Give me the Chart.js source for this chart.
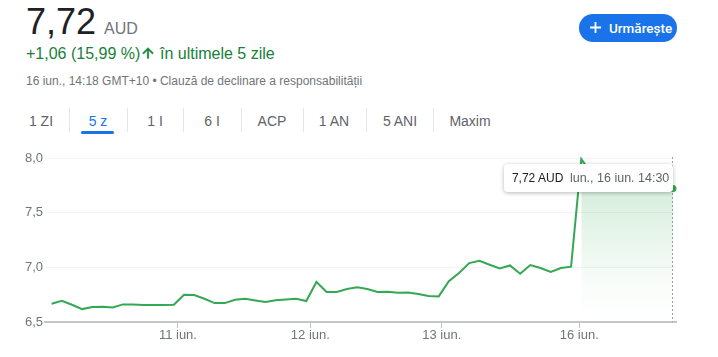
<!DOCTYPE html>
<html><head><meta charset="utf-8">
<script src="https://cdn.jsdelivr.net/npm/chart.js@4"></script>
<style>
html,body{margin:0;padding:0;background:#fff;}
body{width:718px;height:357px;position:relative;overflow:hidden;font-family:Arial,"Liberation Sans",sans-serif;}
.abs{position:absolute;white-space:nowrap;}
#price{left:26px;top:4px;font-size:36px;line-height:36px;color:#202124;}
#cur{left:104px;top:21px;font-size:16px;line-height:16px;color:#70757a;}
#chg{left:26px;top:46px;font-size:16px;line-height:16px;color:#188038;}
#arrow{left:140px;top:45px;width:16px;height:16px;}
#per{left:160px;top:46px;font-size:16px;line-height:16px;color:#188038;}
#meta{left:26px;top:75px;font-size:12px;line-height:12px;color:#70757a;}
#btn{left:579px;top:14px;width:98px;height:28px;border-radius:14px;background:#1a73e8;color:#fff;}
#btn svg{position:absolute;left:10px;top:7px;}
#btn span{position:absolute;left:30px;top:7px;font-family:Roboto,Arial,sans-serif;font-weight:500;font-size:13.5px;line-height:14px;}
.tab{position:absolute;top:114px;width:80px;text-align:center;font-size:14px;line-height:14px;color:#5f6368;}
.sep{position:absolute;top:108px;width:1px;height:24px;background:#e3e5e8;}
#uline{left:81px;top:131px;width:33px;height:3px;border-radius:2px;background:#1a73e8;}
#wrap{left:0;top:140px;width:718px;height:217px;}
#tip{background:#fff;border-radius:4px;box-shadow:0 1px 4px rgba(0,0,0,0.28);height:28px;width:169px;}
#tip .a{position:absolute;left:8px;top:8px;font-size:12px;line-height:12px;color:#202124;}
#tip .b{position:absolute;left:66px;top:8px;font-size:12.5px;line-height:13px;color:#5f6368;}
</style></head>
<body>
<div class="abs" id="price">7,72</div>
<div class="abs" id="cur">AUD</div>
<div class="abs" id="chg">+1,06 (15,99 %)</div>
<svg class="abs" id="arrow" viewBox="0 0 24 24"><path fill="#188038" stroke="#188038" stroke-width="1" d="M4 12l1.41 1.41L11 7.83V20h2V7.83l5.58 5.59L20 12l-8-8-8 8z"/></svg>
<div class="abs" id="per">în ultimele 5 zile</div>
<div class="abs" id="meta">16 iun., 14:18 GMT+10 • Clauză de declinare a responsabilității</div>
<div class="abs" id="btn"><svg width="13" height="13" viewBox="0 0 13 13"><path d="M6.5 1v11M1 6.5h11" stroke="#fff" stroke-width="1.8"/></svg><span>Urmărește</span></div>

<div class="tab" style="left:1px">1 ZI</div>
<div class="tab" style="left:58px;color:#1a73e8">5 z</div>
<div class="tab" style="left:115px">1 I</div>
<div class="tab" style="left:172px">6 I</div>
<div class="tab" style="left:232px">ACP</div>
<div class="tab" style="left:294px">1 AN</div>
<div class="tab" style="left:360px">5 ANI</div>
<div class="tab" style="left:430px">Maxim</div>
<div class="sep" style="left:69px"></div>
<div class="sep" style="left:127px"></div>
<div class="sep" style="left:183px"></div>
<div class="sep" style="left:241px"></div>
<div class="sep" style="left:303px"></div>
<div class="sep" style="left:366px"></div>
<div class="sep" style="left:433px"></div>
<div class="abs" id="uline"></div>

<div class="abs" id="wrap"><canvas id="c" width="718" height="217"></canvas></div>
<div class="abs" id="tip"><span class="a">7,72 AUD</span><span class="b">lun., 16 iun. 14:30</span></div>

<script>
// 30-minute closing prices per trading day (AUD)
const day10 = [6.667,6.694,6.658,6.618,6.637,6.640,6.633,6.661,6.661,6.655,6.655,6.655,6.658];
const day11 = [6.749,6.747,6.713,6.673,6.673,6.704,6.713,6.697,6.683,6.698,6.705,6.713,6.692];
const day12 = [6.866,6.774,6.774,6.801,6.818,6.801,6.774,6.777,6.768,6.770,6.756,6.737,6.734];
const day13 = [6.873,6.948,7.039,7.060,7.024,6.990,7.017,6.941,7.021,6.994,6.957,6.994,7.006];
const day16 = [7.99,7.86,7.80,7.78,7.76,7.75,7.74,7.73,7.72,7.72];

// x-axis day ticks (in slot units) and labels
const xTickPositions = [12.4, 25.4, 38.3, 51.8];
const xTickLabels = ["11 iun.", "12 iun.", "13 iun.", "16 iun."];
// y-axis ticks
const yTickValues = [6.5, 7.0, 7.5, 8.0];
const yTickLabels = ["6,5", "7,0", "7,5", "8,0"];

const allValues = [].concat(day10, day11, day12, day13, day16);
const linePts = allValues.map((v, i) => ({x: i, y: v}));
const start16 = allValues.length - day16.length;
const fillPts = day16.map((v, i) => ({x: start16 + i, y: v}));
const lastIdx = linePts.length - 1;
const GREEN = '#34a853';

const hoverPlugin = {
  id: 'hover',
  afterDatasetsDraw(chart) {
    const el = chart.getDatasetMeta(0).data[lastIdx];
    const ctx = chart.ctx, ca = chart.chartArea;
    ctx.save();
    ctx.strokeStyle = '#9aa0a6';
    ctx.lineWidth = 1;
    ctx.setLineDash([2, 2]);
    ctx.beginPath();
    const x = Math.round(el.x) - 0.5;
    ctx.moveTo(x, ca.top - 1);
    ctx.lineTo(x, ca.bottom);
    ctx.stroke();
    ctx.restore();
  },
  afterDraw(chart) {
    const el = chart.getDatasetMeta(0).data[lastIdx];
    const tip = document.getElementById('tip');
    const top0 = 140;
    tip.style.left = (el.x - 169) + 'px';
    tip.style.top = (top0 + el.y - 25) + 'px';
  }
};

new Chart(document.getElementById('c'), {
  type: 'line',
  data: {
    datasets: [
      {
        data: linePts,
        borderColor: GREEN,
        borderWidth: 2,
        tension: 0,
        fill: false,
        clip: false,
        pointRadius: ctx => ctx.dataIndex === lastIdx ? 3.5 : 0,
        pointBackgroundColor: GREEN,
        pointBorderWidth: 0
      },
      {
        data: fillPts,
        borderWidth: 0,
        pointRadius: 0,
        fill: 'start',
        backgroundColor: (c) => {
          const ca = c.chart.chartArea;
          if (!ca) return 'rgba(52,168,83,0.15)';
          const g = c.chart.ctx.createLinearGradient(0, ca.top, 0, ca.bottom);
          g.addColorStop(0, 'rgba(52,168,83,0.26)');
          g.addColorStop(0.75, 'rgba(52,168,83,0.03)');
          g.addColorStop(1, 'rgba(52,168,83,0)');
          return g;
        }
      }
    ]
  },
  options: {
    responsive: false,
    animation: false,
    devicePixelRatio: 1,
    layout: {padding: {top: 18, right: 42, left: 0, bottom: 0}},
    plugins: {legend: {display: false}, tooltip: {enabled: false}},
    events: [],
    scales: {
      x: {
        type: 'linear',
        min: -0.65,
        max: 61.3,
        afterFit: s => { s.height = 35; },
        afterBuildTicks: s => { s.ticks = xTickPositions.map(v => ({value: v})); },
        ticks: {
          autoSkip: false, maxRotation: 0, padding: 0,
          color: '#70757a',
          font: {family: 'Arial, "Liberation Sans", sans-serif', size: 13},
          callback: (v, i) => xTickLabels[i]
        },
        grid: {drawOnChartArea: false, drawTicks: true, tickLength: 6, color: '#bdc1c6', lineWidth: 1},
        border: {display: true, color: '#c4c7c5', width: 2}
      },
      y: {
        min: 6.5,
        max: 8.0,
        afterFit: s => { s.width = 45; },
        afterBuildTicks: s => { s.ticks = yTickValues.map(v => ({value: v})); },
        ticks: {
          padding: 2,
          color: '#70757a',
          font: {family: 'Arial, "Liberation Sans", sans-serif', size: 13},
          callback: (v, i) => yTickLabels[i]
        },
        grid: {drawTicks: false, color: '#f1f3f4', lineWidth: 1},
        border: {display: false}
      }
    }
  },
  plugins: [hoverPlugin]
});
</script>
</body></html>
